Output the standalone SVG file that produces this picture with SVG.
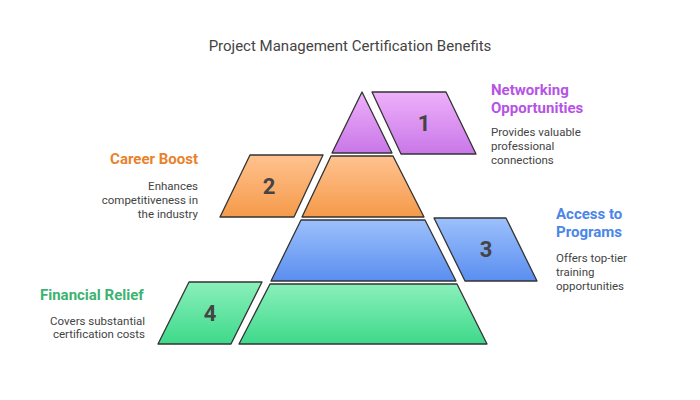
<svg xmlns="http://www.w3.org/2000/svg" width="700" height="400" viewBox="0 0 700 400">
<style>
text{font-family:Roboto,"Liberation Sans",sans-serif}
.t{font-size:15px;fill:#444}
.h{font-size:15px;font-weight:bold}
.d{font-size:11.5px;fill:#444}
.n{font-size:22px;font-weight:bold;fill:#444;text-anchor:middle}
.s{stroke:#333;stroke-width:1.3;stroke-linejoin:round}
</style>
<defs>
<linearGradient id="gp" x1="0" y1="0" x2="0" y2="1"><stop offset="0" stop-color="#eeb0fa"/><stop offset="1" stop-color="#c977e8"/></linearGradient>
<linearGradient id="go" x1="0" y1="0" x2="0" y2="1"><stop offset="0" stop-color="#ffc28f"/><stop offset="1" stop-color="#f59a4a"/></linearGradient>
<linearGradient id="gb" x1="0" y1="0" x2="0" y2="1"><stop offset="0" stop-color="#9cc0fb"/><stop offset="1" stop-color="#5a8ef0"/></linearGradient>
<linearGradient id="gg" x1="0" y1="0" x2="0" y2="1"><stop offset="0" stop-color="#8af0bb"/><stop offset="1" stop-color="#3ed98a"/></linearGradient>
</defs>
<text class="t" x="350" y="51" text-anchor="middle">Project Management Certification Benefits</text>
<g id="n1">
<polygon class="s" fill="url(#gp)" points="362,92 392,153 332,153"/>
<polygon class="s" fill="url(#gp)" points="372,92 446,92 476,154 401,154"/>
<text class="n" x="424" y="131">1</text>
<text class="h" fill="#b653e6" x="491" y="95">Networking</text>
<text class="h" fill="#b653e6" x="491" y="113">Opportunities</text>
<text class="d" x="491" y="136">Provides valuable</text>
<text class="d" x="491" y="150">professional</text>
<text class="d" x="491" y="164">connections</text>
</g>
<g id="n2">
<polygon class="s" fill="url(#go)" points="331,156 393,156 424,217 302,217"/>
<polygon class="s" fill="url(#go)" points="250,155 323,155 294,217 220,217"/>
<text class="n" x="269" y="194">2</text>
<text class="h" fill="#e8822c" x="198" y="164" text-anchor="end">Career Boost</text>
<text class="d" x="198" y="190" text-anchor="end">Enhances</text>
<text class="d" x="198" y="204" text-anchor="end">competitiveness in</text>
<text class="d" x="198" y="218" text-anchor="end">the industry</text>
</g>
<g id="n3">
<polygon class="s" fill="url(#gb)" points="301,220 425,220 456,281 271,281"/>
<polygon class="s" fill="url(#gb)" points="434,218 506,218 537,281 465,281"/>
<text class="n" x="486" y="257">3</text>
<text class="h" fill="#4a86e8" x="556" y="219">Access to</text>
<text class="h" fill="#4a86e8" x="556" y="237">Programs</text>
<text class="d" x="556" y="262">Offers top-tier</text>
<text class="d" x="556" y="276">training</text>
<text class="d" x="556" y="290">opportunities</text>
</g>
<g id="n4">
<polygon class="s" fill="url(#gg)" points="270,284 457,284 487,344 239,344"/>
<polygon class="s" fill="url(#gg)" points="189,282 262,282 231,344 158,344"/>
<text class="n" x="210" y="321">4</text>
<text class="h" fill="#3cb371" x="40" y="300">Financial Relief</text>
<text class="d" x="145" y="325" text-anchor="end">Covers substantial</text>
<text class="d" x="145" y="338" text-anchor="end">certification costs</text>
</g>
<g id="connectors"/>
</svg>
